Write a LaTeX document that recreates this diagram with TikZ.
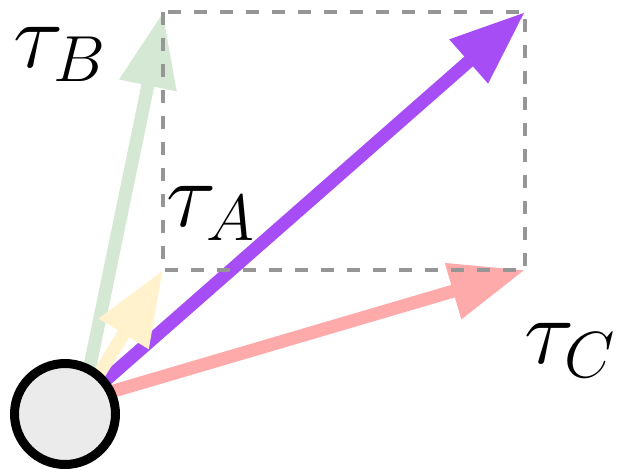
\RequirePackage{fix-cm}
\documentclass[tikz,border=0pt]{standalone}
\usepackage{tikz}
\usetikzlibrary{arrows.meta, backgrounds}
\definecolor{vecpurple}{RGB}{166,77,245}
\definecolor{vecgreen}{RGB}{213,232,212}
\definecolor{vecyellow}{RGB}{255,242,204}
\definecolor{vecpink}{RGB}{255,170,170}
\definecolor{spangray}{RGB}{150,150,150}
\definecolor{agentgray}{RGB}{235,235,235}

\begin{document}
\begin{tikzpicture}[
    x=0.02cm, y=-0.02cm,
    vec/.style={-{Triangle[length=1.5cm, width=1.1cm]}, line width=0.26cm},
    agent/.style={circle, draw, fill=agentgray, line width=0.18cm,
                  minimum size=2.02cm, inner sep=0pt},
    span/.style={draw=spangray, dash pattern=on 0.26cm off 0.26cm,
                 line width=0.08cm},
    lbl/.style={inner sep=0pt, font=\fontsize{53}{64}\selectfont}
  ]
  \useasboundingbox (0,0) rectangle (619,471);

  \node[agent] (ag) at (65,414) {};
  \coordinate (o) at (83,400);

  % corners of the dashed box
  \coordinate (tl) at (163,12);
  \coordinate (tr) at (525,12);
  \coordinate (bl) at (163,270);
  \coordinate (br) at (525,270);

  \begin{scope}[on background layer]
    \draw[vec, vecpink] (o) -- (br);
    \draw[vec, vecgreen] (o) -- (tl);
    \draw[vec, vecpurple] (o) -- (tr);
    \draw[vec, vecyellow] (o) -- (bl);
  \end{scope}

  \draw[span] (tl) rectangle (br);

  \node[lbl] (tauB) at (60,54) {$\tau_B$};
  \node[lbl] (tauA) at (211,213) {$\tau_A$};
  \node[lbl] (tauC) at (570,350) {$\tau_C$};

\end{tikzpicture}
\end{document}
